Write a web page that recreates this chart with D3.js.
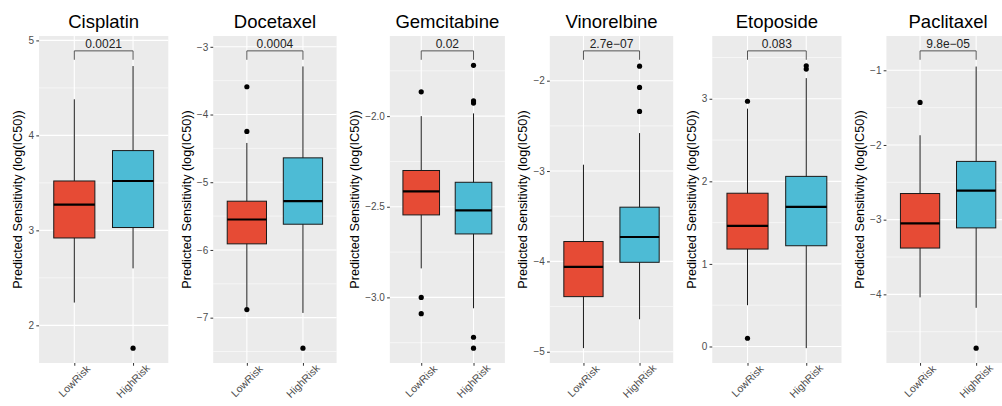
<!DOCTYPE html>
<html>
<head>
<meta charset="utf-8">
<style>
body { margin: 0; background: #fff; }
svg { display: block; font-family: "Liberation Sans", Arial, sans-serif; }
.grid-major { stroke: #fff; stroke-width: 1.1; }
.grid-minor { stroke: #fff; stroke-width: 0.55; }
.tick line { stroke: #333; }
</style>
</head>
<body>
<svg width="1002" height="406"></svg>
<script src="https://d3js.org/d3.v7.min.js"></script>
<script>
// drugs and groups
var drugs = ["Cisplatin", "Docetaxel", "Gemcitabine", "Vinorelbine", "Etoposide", "Paclitaxel"];
var groups = ["LowRisk", "HighRisk"];

// box stats per drug: [lower whisker, q1, median, q3, upper whisker]
var lowBox = [
  [2.24, 2.92, 3.27, 3.52, 4.38],
  [-6.85, -5.91, -5.55, -5.28, -4.42],
  [-2.84, -2.545, -2.415, -2.30, -2.0],
  [-4.96, -4.39, -4.06, -3.78, -2.93],
  [0.50, 1.18, 1.46, 1.856, 2.88],
  [-4.04, -3.38, -3.05, -2.65, -1.87]
];
var highBox = [
  [2.60, 3.03, 3.52, 3.84, 4.73],
  [-6.93, -5.62, -5.28, -4.64, -3.29],
  [-3.06, -2.65, -2.52, -2.365, -1.985],
  [-4.64, -4.01, -3.73, -3.40, -2.58],
  [-0.02, 1.22, 1.69, 2.06, 3.25],
  [-4.18, -3.11, -2.61, -2.22, -0.95]
];
var lowOutliers = [[], [-3.59, -4.25, -6.88], [-1.866, -3.00, -3.09], [], [2.97, 0.10], [-1.43]];
var highOutliers = [[1.76], [-7.45], [-1.72, -1.916, -1.928, -3.22, -3.28], [-1.84, -2.075, -2.34], [3.40, 3.36], [-4.72]];

// comparison brackets
var pLabels = ["0.0021", "0.0004", "0.02", "2.7e\u221207", "0.083", "9.8e\u221205"];
var bracketY = [4.89, -3.06, -1.64, -1.67, 3.58, -0.74];

// y axis ticks
var yTicks = [[2, 3, 4, 5], [-7, -6, -5, -4, -3], [-3, -2.5, -2], [-5, -4, -3, -2], [0, 1, 2, 3], [-4, -3, -2, -1]];
var yTickLabels = [
  ["2", "3", "4", "5"],
  ["\u22127", "\u22126", "\u22125", "\u22124", "\u22123"],
  ["\u22123.0", "\u22122.5", "\u22122.0"],
  ["\u22125", "\u22124", "\u22123", "\u22122"],
  ["0", "1", "2", "3"],
  ["\u22124", "\u22123", "\u22122", "\u22121"]
];

var colors = ["#E64B35", "#4DBBD5"];
var yTitle = "Predicted Sensitivity (log(IC50))";

var svg = d3.select("svg");
var subW = 168.3, panelTop = 36, panelBottom = 363;

drugs.forEach(function(drug, i) {
  var L = i * subW;
  var g = svg.append("g");

  // measure widest tick label to place the panel
  var probe = g.append("text").style("font-size", "10px");
  var maxW = 0;
  yTickLabels[i].forEach(function(t) {
    probe.text(t);
    maxW = Math.max(maxW, probe.node().getComputedTextLength());
  });
  probe.remove();

  var left = L + 28.5 + maxW + 5, right = L + subW;

  // y domain from data extent and bracket, expanded 5%
  var vals = lowBox[i].concat(highBox[i], lowOutliers[i], highOutliers[i], [bracketY[i]]);
  var lo = d3.min(vals), hi = d3.max(vals), pad = (hi - lo) * 0.05;
  var y = d3.scaleLinear().domain([lo - pad, hi + pad]).range([panelBottom, panelTop]);
  var x = d3.scalePoint().domain(groups).range([left, right]).padding(0.6);
  var bw = x.step() * 0.7;

  g.append("rect")
    .attr("x", left).attr("y", panelTop)
    .attr("width", right - left).attr("height", panelBottom - panelTop)
    .attr("fill", "#EBEBEB");

  // minor grid
  var tk = yTicks[i], d = tk[1] - tk[0];
  var minors = [tk[0] - d / 2].concat(tk.map(function(t) { return t + d / 2; }))
    .filter(function(v) { return v > y.domain()[0] && v < y.domain()[1]; });
  g.selectAll(".grid-minor").data(minors).enter().append("line")
    .attr("class", "grid-minor")
    .attr("x1", left).attr("x2", right)
    .attr("y1", function(v) { return y(v); }).attr("y2", function(v) { return y(v); });
  g.selectAll(".grid-major.h").data(tk).enter().append("line")
    .attr("class", "grid-major h")
    .attr("x1", left).attr("x2", right)
    .attr("y1", function(v) { return y(v); }).attr("y2", function(v) { return y(v); });
  g.selectAll(".grid-major.v").data(groups).enter().append("line")
    .attr("class", "grid-major v")
    .attr("x1", function(c) { return x(c); }).attr("x2", function(c) { return x(c); })
    .attr("y1", panelTop).attr("y2", panelBottom);

  // axes
  var yAxis = d3.axisLeft(y).tickValues(tk).tickSize(2.75).tickPadding(2.2)
    .tickFormat(function(v, j) { return yTickLabels[i][j]; });
  var ya = g.append("g").attr("transform", "translate(" + left + ",0)").call(yAxis);
  ya.select(".domain").remove();
  ya.selectAll("text").style("font-size", "10px").attr("fill", "#4D4D4D")
    .style("font-family", "'Liberation Sans', Arial, sans-serif");

  var xAxis = d3.axisBottom(x).tickSize(2.75).tickFormat("");
  var xa = g.append("g").attr("transform", "translate(0," + panelBottom + ")").call(xAxis);
  xa.select(".domain").remove();
  g.selectAll(".xlab").data(groups).enter().append("text")
    .attr("transform", function(c) { return "translate(" + x(c) + ",381) rotate(-45)"; })
    .attr("text-anchor", "middle").attr("dy", "0.35em")
    .style("font-size", "10.5px").attr("fill", "#4D4D4D")
    .text(function(c) { return c; });

  // boxes
  var boxes = [lowBox[i], highBox[i]];
  var outs = [lowOutliers[i], highOutliers[i]];
  groups.forEach(function(c, k) {
    var s = boxes[k], cx = x(c);
    g.append("line")
      .attr("x1", cx).attr("x2", cx).attr("y1", y(s[0])).attr("y2", y(s[4]))
      .attr("stroke", "#1a1a1a").attr("stroke-width", 1);
    g.append("rect")
      .attr("x", cx - bw / 2).attr("width", bw)
      .attr("y", y(s[3])).attr("height", y(s[1]) - y(s[3]))
      .attr("fill", colors[k]).attr("stroke", "#1a1a1a").attr("stroke-width", 1);
    g.append("line")
      .attr("x1", cx - bw / 2).attr("x2", cx + bw / 2)
      .attr("y1", y(s[2])).attr("y2", y(s[2]))
      .attr("stroke", "#000").attr("stroke-width", 2.2);
    g.selectAll(null).data(outs[k]).enter().append("circle")
      .attr("cx", cx).attr("cy", function(v) { return y(v); })
      .attr("r", 2.6).attr("fill", "#000");
  });

  // bracket
  var tip = (hi - lo) * 0.03;
  var x1 = x(groups[0]), x2 = x(groups[1]);
  g.append("path")
    .attr("d", "M" + x1 + "," + y(bracketY[i] - tip) + "V" + y(bracketY[i]) + "H" + x2 + "V" + y(bracketY[i] - tip))
    .attr("fill", "none").attr("stroke", "#444").attr("stroke-width", 0.9);
  g.append("text")
    .attr("x", (x1 + x2) / 2).attr("y", y(bracketY[i]) - 3)
    .attr("text-anchor", "middle")
    .style("font-size", "12px").attr("fill", "#222")
    .text(pLabels[i]);

  // titles
  g.append("text")
    .attr("x", (left + right) / 2).attr("y", 28)
    .attr("text-anchor", "middle")
    .style("font-size", "18.5px").attr("fill", "#000")
    .text(drug);
  g.append("text")
    .attr("transform", "translate(" + (L + 18) + "," + ((panelTop + panelBottom) / 2) + ") rotate(-90)")
    .attr("text-anchor", "middle").attr("dy", "0.35em")
    .style("font-size", "12.7px").attr("fill", "#000")
    .text(yTitle);
});
</script>
</body>
</html>
